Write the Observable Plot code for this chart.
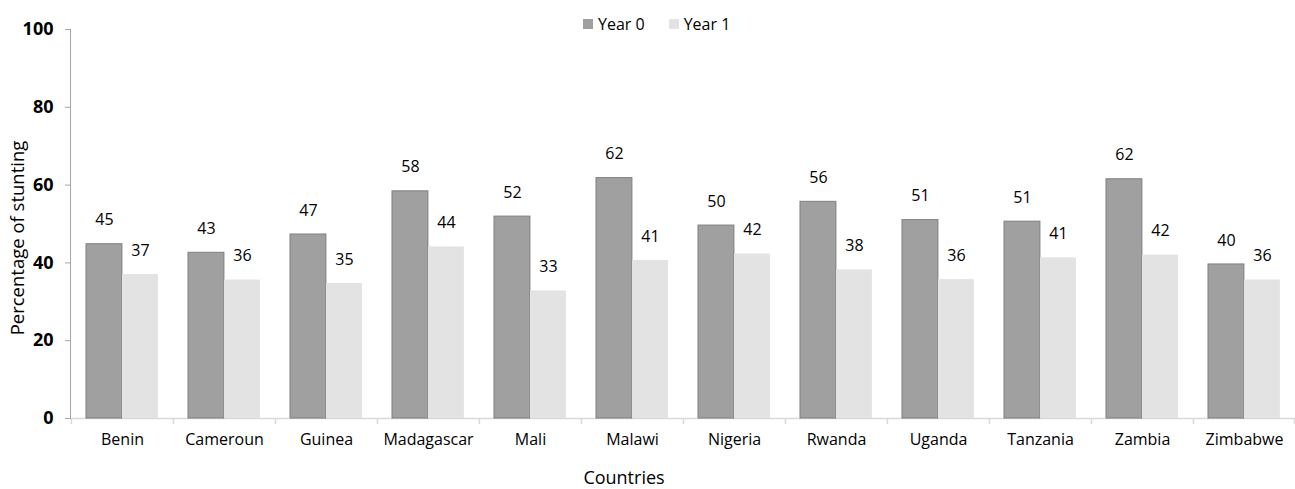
<!DOCTYPE html>
<html><head><meta charset="utf-8">
<script src="https://cdn.jsdelivr.net/npm/d3@7"></script>
<script src="https://cdn.jsdelivr.net/npm/@observablehq/plot@0.6"></script>
<style>
body{margin:0;background:#fff;}
#wrap{position:relative;width:1295px;height:489px;background:#fff;}
#legend{position:absolute;left:583px;top:7px;}
#legend > div{font-family:"Open Sans",sans-serif;font-size:16px;color:#000;}
#legend span{margin-right:24px !important;}
#legend svg{margin-right:5px !important;}
</style></head><body><div id="wrap"><div id="legend"></div></div>
<script>
const countries = ["Benin","Cameroun","Guinea","Madagascar","Mali","Malawi","Nigeria","Rwanda","Uganda","Tanzania","Zambia","Zimbabwe"];
const year0 = [44.8,42.6,47.3,58.4,51.9,61.8,49.6,55.7,51.0,50.6,61.5,39.6];
const year1 = [37.0,35.6,34.7,44.1,32.8,40.6,42.3,38.2,35.7,41.3,42.0,35.6];
const series = ["Year 0","Year 1"];
const colors = ["#a0a0a0","#e3e3e3"];
const yTicks = [0,20,40,60,80,100];
const xTitle = "Countries";
const yTitle = "Percentage of stunting";

const rows0 = countries.map((c,i)=>({country:c, series:series[0], value:year0[i]}));
const rows1 = countries.map((c,i)=>({country:c, series:series[1], value:year1[i]}));

const W = 1295, H = 489, mL = 70, mR = 0, mT = 29, mB = 71;
const bw = (W - mL - mR) / countries.length;
const fmt = d3.format(".0f");

const chart = Plot.plot({
  width: W, height: H,
  marginLeft: mL, marginRight: mR, marginTop: mT, marginBottom: mB,
  style: {fontFamily: "Open Sans, sans-serif", fontSize: "16px", color: "#000", background: "transparent"},
  x: {type: "band", domain: countries, padding: 0, axis: null},
  y: {domain: [0, 100], axis: null},
  color: {domain: series, range: colors},
  marks: [
    Plot.ruleY([0], {stroke: "#d9d9d9", strokeWidth: 1.5}),
    Plot.barY(rows0, {x: "country", y: "value", fill: "series", stroke: "#7f7f7f", strokeWidth: 1, insetLeft: 15, insetRight: bw - 51}),
    Plot.barY(rows1, {x: "country", y: "value", fill: "series", insetLeft: 51, insetRight: bw - 87}),
    Plot.ruleX(countries, {x: d => d, dx: -bw/2, insetTop: H - mT - mB, insetBottom: -6, stroke: "#d9d9d9", strokeWidth: 1.5}),
    Plot.ruleX(countries.slice(-1), {x: d => d, dx: bw/2 - 1, insetTop: H - mT - mB, insetBottom: -6, stroke: "#d9d9d9", strokeWidth: 1.5}),
    Plot.frame({anchor: "left", stroke: "#a6a6a6"}),
    Plot.axisY({ticks: yTicks, tickSize: 5, tickPadding: 12, stroke: "#a6a6a6", fill: "#000", fontWeight: "bold", fontSize: 18, label: null}),
    Plot.axisX({tickSize: 0, tickPadding: 15, fill: "#000", fontSize: 16, label: null}),
    Plot.text(rows0, {x: "country", y: "value", text: d => fmt(d.value), dx: -18, dy: -24, fontSize: 16, fill: "#000"}),
    Plot.text(rows1, {x: "country", y: "value", text: d => fmt(d.value), dx: 18, dy: -24, fontSize: 16, fill: "#000"}),
    Plot.text([xTitle], {text: d => d, frameAnchor: "bottom", textAnchor: "middle", lineAnchor: "middle", dx: -59, dy: 60, fontSize: 18, fill: "#000"}),
    Plot.text([yTitle], {text: d => d, frameAnchor: "left", textAnchor: "middle", lineAnchor: "middle", rotate: -90, dx: -52, dy: 14, fontSize: 18.5, fill: "#000"})
  ]
});
document.getElementById("wrap").appendChild(chart);

const legend = Plot.legend({color: {domain: series, range: colors}, swatchSize: 10, style: {fontFamily: "Open Sans, sans-serif", fontSize: "16px"}});
document.getElementById("legend").appendChild(legend);
</script>
</body></html>
